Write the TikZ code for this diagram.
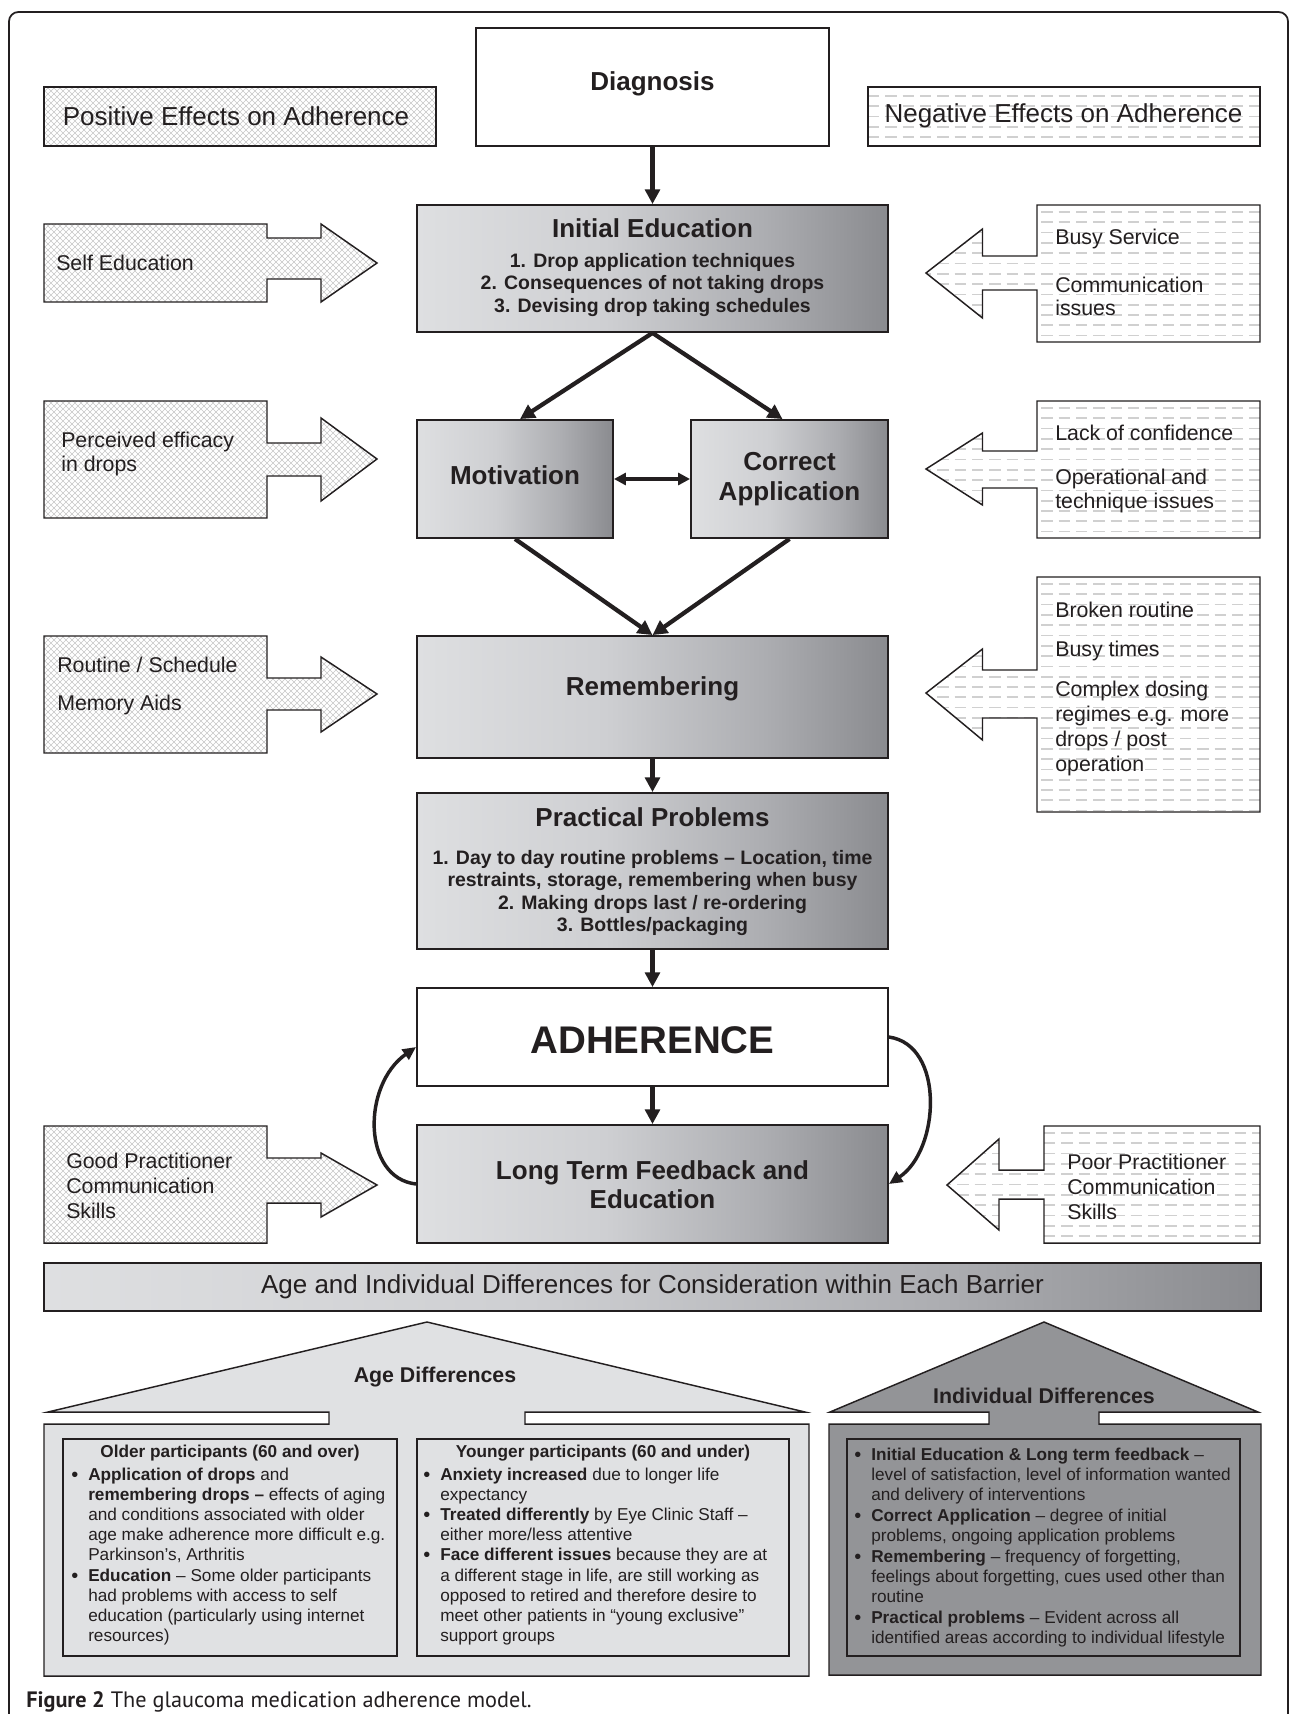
\documentclass[tikz,border=0pt]{standalone}
\usepackage{fontspec}
\setmainfont{Liberation Sans}
\newfontfamily\capfont{PT Sans}
\usetikzlibrary{arrows.meta,fit,calc,patterns}

\definecolor{ink}{RGB}{35,31,32}
\definecolor{gA}{RGB}{222,223,225}
\definecolor{gB}{RGB}{206,207,210}
\definecolor{gC}{RGB}{172,173,177}
\definecolor{gD}{RGB}{138,139,143}
\definecolor{agefill}{RGB}{224,225,227}
\definecolor{indfill}{RGB}{147,148,151}
\definecolor{dashgray}{RGB}{208,208,208}

\pgfdeclarehorizontalshading{boxgrad}{100bp}{color(0bp)=(gA); color(25bp)=(gA); color(45bp)=(gB); color(62bp)=(gC); color(75bp)=(gD); color(100bp)=(gD)}

\pgfdeclarepatternformonly{weave}{\pgfqpoint{-0.5pt}{-0.5pt}}{\pgfqpoint{5pt}{5pt}}{\pgfqpoint{4.5pt}{4.5pt}}{%
  \pgfsetlinewidth{0.5pt}%
  \pgfpathmoveto{\pgfqpoint{0pt}{0pt}}%
  \pgfpathlineto{\pgfqpoint{2.25pt}{2.25pt}}%
  \pgfpathlineto{\pgfqpoint{4.5pt}{0pt}}%
  \pgfpathmoveto{\pgfqpoint{0pt}{4.5pt}}%
  \pgfpathlineto{\pgfqpoint{2.25pt}{2.25pt}}%
  \pgfpathlineto{\pgfqpoint{4.5pt}{4.5pt}}%
  \pgfusepath{stroke}}

\newcommand\szTitle{\fontsize{19.5}{22.5}\selectfont}
\newcommand\szSide{\fontsize{16}{17.3}\selectfont}
\newcommand\szList{\fontsize{14.6}{16.9}\selectfont}
\newcommand\szSmall{\fontsize{12.9}{15.2}\selectfont}
\newcommand\szHuge{\fontsize{28.9}{32}\selectfont}

\newcommand\putline[4]{\node[listline] (#1) at (#2,#3) {#4};}
\newcommand\putbullet[3]{\node[bulletnode] (#1) at (#2,#3) {\textbullet};}

\def\posA{(44,224) -- (267,224) -- (267,238) -- (321,238) -- (321,224) -- (377,263) -- (321,302) -- (321,279) -- (267,279) -- (267,302) -- (44,302) -- cycle}
\def\posB{(44,401) -- (267,401) -- (267,443) -- (321,443) -- (321,418) -- (377,459) -- (321,501) -- (321,476) -- (267,476) -- (267,518) -- (44,518) -- cycle}
\def\posC{(44,636) -- (267,636) -- (267,678) -- (321,678) -- (321,657) -- (377,694) -- (321,732) -- (321,710) -- (267,710) -- (267,753) -- (44,753) -- cycle}
\def\posD{(44,1126) -- (267,1126) -- (267,1158) -- (321,1158) -- (321,1153) -- (377,1185) -- (321,1217) -- (321,1203) -- (267,1203) -- (267,1243) -- (44,1243) -- cycle}

\def\negH{(868,87) -- (1260,87) -- (1260,146) -- (868,146) -- cycle}
\def\negA{(1037,205) -- (1260,205) -- (1260,342) -- (1037,342) -- (1037,290) -- (982.5,290) -- (982.5,318) -- (926,273) -- (982.5,229) -- (982.5,256) -- (1037,256) -- cycle}
\def\negB{(1037,401) -- (1260,401) -- (1260,538) -- (1037,538) -- (1037,488) -- (982.5,488) -- (982.5,505) -- (926,469) -- (982.5,433) -- (982.5,451) -- (1037,451) -- cycle}
\def\negC{(1037,577) -- (1260,577) -- (1260,812) -- (1037,812) -- (1037,718) -- (982.5,718) -- (982.5,740) -- (926,693) -- (982.5,649) -- (982.5,670) -- (1037,670) -- cycle}
\def\negD{(1044,1126) -- (1260,1126) -- (1260,1243) -- (1044,1243) -- (1044,1199) -- (999,1199) -- (999,1230) -- (947,1185) -- (999,1139) -- (999,1170) -- (1044,1170) -- cycle}

\tikzset{
  ln/.style={draw=ink, line width=1.4pt},
  flowbox/.style={ln, inner sep=0pt, shade, shading=boxgrad},
  whitebox/.style={ln, inner sep=0pt, fill=white},
  conn/.style={draw=ink, line width=3.2pt, -{Triangle[length=11pt,width=11pt]}},
  dconn/.style={draw=ink, line width=3pt, {Triangle[length=9pt,width=9pt]}-{Triangle[length=9pt,width=9pt]}},
  curv/.style={draw=ink, line width=2.6pt, -{Triangle[length=10pt,width=9pt]}},
  posfill/.style={draw=ink, line width=1.1pt, pattern=weave, pattern color=black!22},
  negline/.style={draw=ink, line width=1.1pt},
  negdash/.style={draw=dashgray, line width=1.3pt, dash pattern=on 8.5pt off 4.5pt},
  sidetext/.style={anchor=west, align=left, inner sep=0pt, text=ink, font=\szSide},
  ttl/.style={inner sep=0pt, text=ink, font=\bfseries\szTitle, align=center},
  listline/.style={anchor=base west, inner sep=0pt, font=\szSmall, text=ink},
  bulletnode/.style={anchor=base west, inner sep=0pt, font=\fontsize{15}{15}\selectfont, text=ink},
}

\begin{document}
\begin{tikzpicture}[x=0.75pt,y=-0.75pt]
\useasboundingbox (0,0) rectangle (1290,1714);
\fill[white] (0,0) rectangle (1290,1714);

% outer frame
\draw[draw=ink, line width=1.3pt, rounded corners=7pt] (9,1730) -- (9,12) -- (1288,12) -- (1288,1730);

% headers
\node[posfill, inner sep=0pt, fit={(44,87) (436,146)}] (poshead) {};
\node[inner sep=0pt, text=ink, font=\fontsize{19.5}{22}\selectfont] (postext) at (236,116) {Positive Effects on Adherence};
\begin{scope}
  \clip \negH;
  \foreach \yy in {96,106.3,...,146} \draw[negdash] (868,\yy) -- (1260,\yy);
\end{scope}
\draw[negline] \negH;
\node[inner sep=0pt, text=ink, font=\fontsize{19.5}{22}\selectfont] (negtext) at (1063.5,116) {Negative Effects on Adherence};

% main boxes
\node[whitebox, fit={(476,28) (829,146)}] (diag) {};
\node[ttl] (diagt) at (652.5,84) {Diagnosis};

\node[flowbox, fit={(417,205) (888,332)}] (ie) {};
\node[ttl] (iet) at (652.5,228) {Initial Education};
\node[inner sep=0pt, text=ink, font=\bfseries\szList, align=center] (iel) at (652.5,285) {1. Drop application techniques\\2. Consequences of not taking drops\\3. Devising drop taking schedules};

\node[flowbox, fit={(417,420) (613,538)}] (mot) {};
\node[ttl] (mott) at (515,475) {Motivation};
\node[flowbox, fit={(691,420) (888,538)}] (ca) {};
\node[ttl] (cat) at (789.5,479) {Correct\\Application};

\node[flowbox, fit={(417,636) (888,758)}] (rem) {};
\node[ttl] (remt) at (652.5,689) {Remembering};

\node[flowbox, fit={(417,793) (888,949)}] (pp) {};
\node[ttl] (ppt) at (652.5,817) {Practical Problems};
\node[inner sep=0pt, text=ink, font=\bfseries\szList, align=center] (ppl) at (652.5,893) {1. Day to day routine problems – Location, time\\restraints, storage, remembering when busy\\2. Making drops last / re-ordering\\3. Bottles/packaging};

\node[whitebox, fit={(417,988) (888,1086)}] (adh) {};
\node[inner sep=0pt, text=ink, font=\bfseries\szHuge] (adht) at (652.5,1040) {ADHERENCE};

\node[flowbox, fit={(417,1125) (888,1243)}] (lt) {};
\node[ttl, font=\bfseries\fontsize{19.5}{21.5}\selectfont] (ltt) at (652.5,1185) {Long Term Feedback and\\Education};

% connectors
\draw[conn] (diag) -- (ie);
\draw[conn] (ie.south) -- ($(mot.north)+(5,0)$);
\draw[conn] (ie.south) -- ($(ca.north)+(-7,0)$);
\draw[dconn] (mot) -- (ca);
\draw[conn] (mot.south) -- (rem.north);
\draw[conn] (ca.south) -- (rem.north);
\draw[conn] (rem) -- (pp);
\draw[conn] (pp) -- (adh);
\draw[conn] (adh) -- (lt);
\draw[curv] (lt.west) .. controls (362,1178) and (362,1085) .. ($(adh.west)+(0,10)$);
\draw[curv] (adh.east) .. controls (945,1045) and (940,1150) .. (lt.east);

% positive side arrows
\draw[posfill] \posA;
\node[sidetext] (se) at (56,263) {Self Education};
\draw[posfill] \posB;
\node[sidetext] (pe) at (61,454) {Perceived efficacy\\in drops};
\draw[posfill] \posC;
\node[sidetext] (rs) at (57,665) {Routine / Schedule};
\node[sidetext] (ma) at (57,705) {Memory Aids};
\draw[posfill] \posD;
\node[sidetext, font=\fontsize{16}{18.7}\selectfont] (gp) at (66,1186) {Good Practitioner\\Communication\\Skills};

% negative side arrows
\begin{scope}
  \clip \negA;
  \foreach \yy in {212,222.3,...,342} \draw[negdash] (920,\yy) -- (1260,\yy);
\end{scope}
\draw[negline] \negA;
\node[sidetext] (bs) at (1055,239) {Busy Service};
\node[sidetext] (ci) at (1055,296.5) {Communication\\issues};

\begin{scope}
  \clip \negB;
  \foreach \yy in {408,418.3,...,538} \draw[negdash] (920,\yy) -- (1260,\yy);
\end{scope}
\draw[negline] \negB;
\node[sidetext] (lc) at (1055,433) {Lack of confidence};
\node[sidetext] (ot) at (1055,491) {Operational and\\technique issues};

\begin{scope}
  \clip \negC;
  \foreach \yy in {584,594.3,...,812} \draw[negdash] (920,\yy) -- (1260,\yy);
\end{scope}
\draw[negline] \negC;
\node[sidetext] (br) at (1055,610) {Broken routine};
\node[sidetext] (bt) at (1055,651) {Busy times};
\node[sidetext, font=\fontsize{16}{18.7}\selectfont] (cd) at (1055,728.5) {Complex dosing\\regimes e.g. more\\drops / post\\operation};

\begin{scope}
  \clip \negD;
  \foreach \yy in {1133,1143.3,...,1243} \draw[negdash] (940,\yy) -- (1260,\yy);
\end{scope}
\draw[negline] \negD;
\node[sidetext, font=\fontsize{16}{18.7}\selectfont] (pc) at (1067,1187) {Poor Practitioner\\Communication\\Skills};

% banner
\node[flowbox, fit={(44,1263) (1261,1311)}] (banner) {};
\node[inner sep=0pt, text=ink, font=\fontsize{19.5}{22}\selectfont] (bannert) at (652.5,1287) {Age and Individual Differences for Consideration within Each Barrier};

% age differences house
\draw[draw=ink, line width=1.1pt, fill=agefill] (44,1676) -- (44,1424) -- (329,1424) -- (329,1412) -- (48,1412) -- (427,1322) -- (805,1412) -- (525,1412) -- (525,1424) -- (809,1424) -- (809,1676) -- cycle;
\node[inner sep=0pt, text=ink, font=\bfseries\fontsize{16}{18}\selectfont] (aget) at (435,1377) {Age Differences};
\node[draw=ink, line width=1.1pt, fill=agefill, inner sep=0pt, fit={(63,1439) (397,1656)}] (old) {};
\node[draw=ink, line width=1.1pt, fill=agefill, inner sep=0pt, fit={(417,1439) (789,1656)}] (young) {};

% individual differences house
\draw[draw=ink, line width=1.1pt, fill=indfill] (829,1675) -- (829,1424) -- (989,1424) -- (989,1412) -- (830,1412) -- (1044,1322) -- (1258,1412) -- (1099,1412) -- (1099,1424) -- (1261,1424) -- (1261,1675) -- cycle;
\node[inner sep=0pt, text=ink, font=\bfseries\fontsize{16}{18}\selectfont] (indt) at (1044,1396) {Individual Differences};
\node[draw=ink, line width=1.1pt, fill=indfill, inner sep=0pt, fit={(847,1439) (1240,1656)}] (indbox) {};

% older list
\node[inner sep=0pt, text=ink, font=\bfseries\szSmall] (oldh) at (230,1453) {Older participants (60 and over)};
\putbullet{ob1}{71}{1481}
\putline{o1}{88}{1480}{\textbf{Application of drops} and}
\putline{o2}{88}{1500.2}{\textbf{remembering drops –} effects of aging}
\putline{o3}{88}{1520.4}{and conditions associated with older}
\putline{o4}{88}{1540.6}{age make adherence more difficult e.g.}
\putline{o5}{88}{1560.8}{Parkinson’s, Arthritis}
\putbullet{ob2}{71}{1582}
\putline{o6}{88}{1581}{\textbf{Education} – Some older participants}
\putline{o7}{88}{1601.2}{had problems with access to self}
\putline{o8}{88}{1621.4}{education (particularly using internet}
\putline{o9}{88}{1641.6}{resources)}

% younger list
\node[inner sep=0pt, text=ink, font=\bfseries\szSmall] (youngh) at (603,1453) {Younger participants (60 and under)};
\putbullet{yb1}{423}{1481}
\putline{y1}{440}{1480}{\textbf{Anxiety increased} due to longer life}
\putline{y2}{440}{1500.2}{expectancy}
\putbullet{yb2}{423}{1521.4}
\putline{y3}{440}{1520.4}{\textbf{Treated differently} by Eye Clinic Staff –}
\putline{y4}{440}{1540.6}{either more/less attentive}
\putbullet{yb3}{423}{1561.8}
\putline{y5}{440}{1560.8}{\textbf{Face different issues} because they are at}
\putline{y6}{440}{1581}{a different stage in life, are still working as}
\putline{y7}{440}{1601.2}{opposed to retired and therefore desire to}
\putline{y8}{440}{1621.4}{meet other patients in “young exclusive”}
\putline{y9}{440}{1641.6}{support groups}

% individual list
\putbullet{ib1}{854}{1461}
\putline{i1}{871}{1460}{\textbf{Initial Education \& Long term feedback} –}
\putline{i2}{871}{1480.4}{level of satisfaction, level of information wanted}
\putline{i3}{871}{1500.8}{and delivery of interventions}
\putbullet{ib2}{854}{1522.2}
\putline{i4}{871}{1521.2}{\textbf{Correct Application} – degree of initial}
\putline{i5}{871}{1541.6}{problems, ongoing application problems}
\putbullet{ib3}{854}{1563}
\putline{i6}{871}{1562}{\textbf{Remembering} – frequency of forgetting,}
\putline{i7}{871}{1582.4}{feelings about forgetting, cues used other than}
\putline{i8}{871}{1602.8}{routine}
\putbullet{ib4}{854}{1624.2}
\putline{i9}{871}{1623.2}{\textbf{Practical problems} – Evident across all}
\putline{i10}{871}{1643.6}{identified areas according to individual lifestyle}

% caption
\node[anchor=west, inner sep=0pt, text=ink, font=\capfont\fontsize{16.7}{18}\selectfont] (cap) at (26,1702) {\textbf{Figure 2} The glaucoma medication adherence model.};
\end{tikzpicture}
\end{document}
